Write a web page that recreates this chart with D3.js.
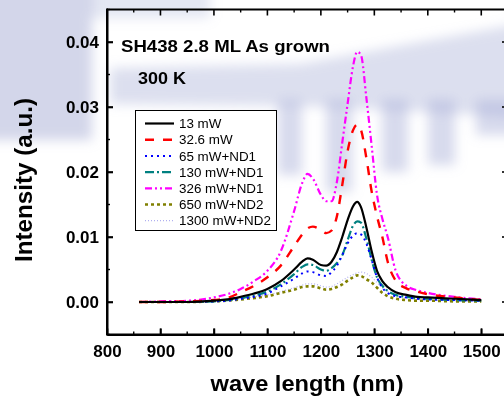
<!DOCTYPE html>
<html>
<head>
<meta charset="utf-8">
<script src="https://cdn.jsdelivr.net/npm/d3@7"></script>
<style>
  html, body { margin: 0; padding: 0; background: #fff; }
  svg { display: block; font-family: Arial, "Liberation Sans", sans-serif; }
</style>
</head>
<body>
<script>
//// Data ////////////////////////////////////////////
const wavelength = [860, 900, 950, 1000, 1025, 1050, 1075, 1100, 1125, 1150, 1165, 1175, 1185, 1200, 1210, 1220, 1230,
  1240, 1250, 1260, 1268, 1275, 1285, 1295, 1305, 1315, 1325, 1340, 1360, 1380, 1400, 1450, 1500]

const p13 = [0, 0, 0, 0.0002, 0.0004, 0.0008, 0.0013, 0.0020, 0.0032, 0.0050, 0.0062, 0.0067, 0.0065, 0.0057, 0.0056, 0.0062, 0.0077,
  0.0100, 0.0126, 0.0147, 0.0154, 0.0146, 0.0115, 0.0078, 0.0048, 0.0032, 0.0023, 0.0015, 0.0011, 0.0008, 0.0007, 0.0005, 0.0003]
const p32 = [0, 0, 0.0001, 0.0003, 0.0006, 0.0015, 0.0025, 0.0038, 0.0056, 0.0086, 0.0104, 0.0113, 0.0116, 0.0111, 0.0106, 0.0110, 0.0132,
  0.0180, 0.0232, 0.0264, 0.0273, 0.0265, 0.0222, 0.0170, 0.0132, 0.0100, 0.0062, 0.0033, 0.0021, 0.0016, 0.0012, 0.0007, 0.0003]
const p65 = [0, 0, 0, 0.0001, 0.0002, 0.0005, 0.0008, 0.0013, 0.0024, 0.0036, 0.0044, 0.0047, 0.0046, 0.0041, 0.0040, 0.0046, 0.0056,
  0.0072, 0.0090, 0.0102, 0.0106, 0.0104, 0.0090, 0.0065, 0.0038, 0.0022, 0.0014, 0.0009, 0.0007, 0.0005, 0.0004, 0.0003, 0.0002]
const p130 = [0, 0, 0, 0.0001, 0.0003, 0.0006, 0.0010, 0.0016, 0.0027, 0.0043, 0.0054, 0.0058, 0.0057, 0.0050, 0.0048, 0.0052, 0.0060,
  0.0072, 0.0095, 0.0117, 0.0124, 0.0122, 0.0098, 0.0065, 0.0038, 0.0025, 0.0017, 0.0011, 0.0008, 0.0006, 0.0005, 0.0003, 0.0002]
const p326 = [0, 0.0001, 0.0002, 0.0007, 0.0012, 0.0020, 0.0032, 0.0048, 0.0078, 0.0140, 0.0183, 0.0197, 0.0190, 0.0165, 0.0155, 0.0155, 0.0185,
  0.0245, 0.0305, 0.0362, 0.0385, 0.0380, 0.0315, 0.0240, 0.0165, 0.0128, 0.0100, 0.0048, 0.0025, 0.0018, 0.0014, 0.0008, 0.0004]
const p650 = [0, 0, 0, 0.0001, 0.0002, 0.0004, 0.0006, 0.0009, 0.0014, 0.0019, 0.0023, 0.0024, 0.0024, 0.0021, 0.0019, 0.0020, 0.0023,
  0.0027, 0.0033, 0.0038, 0.0041, 0.0040, 0.0035, 0.0030, 0.0022, 0.0014, 0.0009, 0.0005, 0.0003, 0.0002, 0.0002, 0.0001, 0.0001]
const p1300 = [0, 0, 0, 0.0001, 0.0003, 0.0005, 0.0008, 0.0011, 0.0016, 0.0022, 0.0026, 0.0028, 0.0028, 0.0025, 0.0023, 0.0024, 0.0028,
  0.0033, 0.0038, 0.0042, 0.0045, 0.0046, 0.0044, 0.0038, 0.0030, 0.0022, 0.0016, 0.0010, 0.0006, 0.0004, 0.0003, 0.0002, 0.0001]

const labels = ["13 mW", "32.6 mW", "65 mW+ND1", "130 mW+ND1", "326 mW+ND1", "650 mW+ND2", "1300 mW+ND2"]
const xTicks = [800, 900, 1000, 1100, 1200, 1300, 1400, 1500]
const yTicks = [0, 0.01, 0.02, 0.03, 0.04]
const xMinor = [850, 950, 1050, 1150, 1250, 1350, 1450, 1550]
const yMinor = [-0.005, 0.005, 0.015, 0.025, 0.035, 0.045]

//// Styles //////////////////////////////////////////
const styles = [
  { color: "#000000", dash: null, width: 2.2 },
  { color: "#ff0000", dash: "9,9", width: 2.4 },
  { color: "#0000ff", dash: "2,4", width: 2 },
  { color: "#008080", dash: "9,3,2,3", width: 2.2 },
  { color: "#ff00ff", dash: "7,3,2,3,2,3", width: 2.2 },
  { color: "#808000", dash: "3,3", width: 2.6 },
  { color: "#b0b0f0", dash: "1,2", width: 1.2 }
]
const series = [p13, p32, p65, p130, p326, p650, p1300]

const WIDTH = 504
const HEIGHT = 401
const FONT = "Arial, 'Liberation Sans', sans-serif"

const svg = d3.select("body").append("svg")
  .attr("width", WIDTH)
  .attr("height", HEIGHT)

//// Background watermark (blurred) ////
const defs = svg.append("defs")
defs.append("filter").attr("id", "blur")
  .attr("filterUnits", "userSpaceOnUse")
  .attr("x", -60).attr("y", -60).attr("width", 640).attr("height", 320)
  .append("feGaussianBlur").attr("stdDeviation", 6)

const bg = svg.append("g").attr("filter", "url(#blur)").attr("fill", "#a7aed6")
bg.append("rect").attr("x", -20).attr("y", -20).attr("width", 112).attr("height", 160).attr("opacity", 0.5)
bg.append("rect").attr("x", 90).attr("y", -20).attr("width", 120).attr("height", 38).attr("opacity", 0.3)
bg.append("path").attr("d", "M110,68 L300,64 L430,40 L530,22 L530,118 L430,112 L300,106 L110,104 Z").attr("opacity", 0.4)
const teeth = [[278, 302, 175], [326, 352, 192], [382, 408, 172], [428, 455, 165], [476, 520, 135]]
teeth.forEach(t => {
  bg.append("rect").attr("x", t[0]).attr("y", 100).attr("width", t[1] - t[0]).attr("height", t[2] - 100).attr("opacity", 0.45)
})

//// Scales ////
const x = d3.scaleLinear().domain([800, 1550]).range([107, 508])
const y = d3.scaleLinear().domain([-0.005, 0.045]).range([334.5, 9.5])

//// Curves ////
const line = d3.line()
  .x((d, i) => x(wavelength[i]))
  .y(d => y(d))
  .curve(d3.curveMonotoneX)

// draw in reverse so the black curve ends up on top
for (let k = series.length - 1; k >= 0; k--) {
  svg.append("path")
    .datum(series[k])
    .attr("d", line)
    .attr("fill", "none")
    .attr("stroke", styles[k].color)
    .attr("stroke-width", styles[k].width)
    .attr("stroke-dasharray", styles[k].dash)
}

//// Legend ////
const legend = svg.append("g")
legend.append("rect")
  .attr("x", 135.5).attr("y", 110.5).attr("width", 141).attr("height", 120)
  .attr("fill", "#fff").attr("stroke", "#000").attr("stroke-width", 1)

labels.forEach((lab, i) => {
  const ly = 123.5 + i * 16.2
  legend.append("line")
    .attr("x1", 145).attr("x2", 174).attr("y1", ly).attr("y2", ly)
    .attr("stroke", styles[i].color)
    .attr("stroke-width", styles[i].width)
    .attr("stroke-dasharray", styles[i].dash)
  legend.append("text")
    .attr("x", 179).attr("y", ly + 4.6)
    .attr("font-family", FONT).attr("font-size", 13.4)
    .text(lab)
})

//// Annotations ////
svg.append("text")
  .attr("x", 121).attr("y", 51.7)
  .attr("font-family", FONT).attr("font-size", 17).attr("font-weight", "bold")
  .attr("textLength", 209).attr("lengthAdjust", "spacingAndGlyphs")
  .text("SH438 2.8 ML As grown")
svg.append("text")
  .attr("x", 138).attr("y", 84)
  .attr("font-family", FONT).attr("font-size", 17).attr("font-weight", "bold")
  .attr("textLength", 48).attr("lengthAdjust", "spacingAndGlyphs")
  .text("300 K")

//// Axis titles ////
svg.append("text")
  .attr("x", 307).attr("y", 391)
  .attr("text-anchor", "middle")
  .attr("font-family", FONT).attr("font-size", 22).attr("font-weight", "bold")
  .attr("textLength", 193).attr("lengthAdjust", "spacingAndGlyphs")
  .text("wave length (nm)")
svg.append("text")
  .attr("transform", "translate(32,180) rotate(-90)")
  .attr("text-anchor", "middle")
  .attr("font-family", FONT).attr("font-size", 23).attr("font-weight", "bold")
  .attr("textLength", 164).attr("lengthAdjust", "spacingAndGlyphs")
  .text("Intensity (a.u.)")

//// Axes (drawn last, on top) ////
function styleAxis(g) {
  g.select(".domain").attr("stroke", "#000").attr("stroke-width", 2)
  g.selectAll(".tick line").attr("stroke", "#000").attr("stroke-width", 1.6)
  g.selectAll("text").attr("font-family", FONT).attr("font-size", 17).attr("font-weight", "bold").attr("fill", "#000")
}

svg.append("g").attr("transform", `translate(0,${y(-0.005)})`)
  .call(d3.axisBottom(x).tickValues(xTicks).tickSizeInner(-6).tickSizeOuter(0).tickPadding(10).tickFormat(d3.format("d")))
  .call(styleAxis)
svg.append("g").attr("transform", `translate(${x(800)},0)`)
  .call(d3.axisLeft(y).tickValues(yTicks).tickSizeInner(-6).tickSizeOuter(0).tickPadding(8).tickFormat(d3.format(".2f")))
  .call(styleAxis)

// tick marks on all four sides, inward
const ticks = svg.append("g").attr("stroke", "#000")
const tickSets = [
  { vals: xTicks, len: 6, w: 1.6 }, { vals: xMinor, len: 3, w: 1.4 }
]
tickSets.forEach(s => {
  ticks.selectAll(null).data(s.vals).join("line")
    .attr("x1", d => x(d)).attr("x2", d => x(d))
    .attr("y1", y(-0.005)).attr("y2", y(-0.005) - s.len).attr("stroke-width", s.w)
  ticks.selectAll(null).data(s.vals).join("line")
    .attr("x1", d => x(d)).attr("x2", d => x(d))
    .attr("y1", y(0.045)).attr("y2", y(0.045) + s.len).attr("stroke-width", s.w)
})
const yTickSets = [
  { vals: yTicks, len: 6, w: 1.6 }, { vals: yMinor, len: 3, w: 1.4 }
]
yTickSets.forEach(s => {
  ticks.selectAll(null).data(s.vals).join("line")
    .attr("y1", d => y(d)).attr("y2", d => y(d))
    .attr("x1", x(800)).attr("x2", x(800) + s.len).attr("stroke-width", s.w)
  ticks.selectAll(null).data(s.vals).join("line")
    .attr("y1", d => y(d)).attr("y2", d => y(d))
    .attr("x1", x(1550)).attr("x2", x(1550) - s.len).attr("stroke-width", s.w)
})

// plot frame
const frame = svg.append("g").attr("stroke", "#000").attr("stroke-width", 2)
frame.append("line").attr("x1", x(800)).attr("x2", x(1550)).attr("y1", y(-0.005)).attr("y2", y(-0.005))
frame.append("line").attr("x1", x(800)).attr("x2", x(1550)).attr("y1", y(0.045)).attr("y2", y(0.045))
frame.append("line").attr("x1", x(800)).attr("x2", x(800)).attr("y1", y(0.045) - 1).attr("y2", y(-0.005) + 1)
frame.append("line").attr("x1", x(1550)).attr("x2", x(1550)).attr("y1", y(0.045) - 1).attr("y2", y(-0.005) + 1)
</script>
</body>
</html>
